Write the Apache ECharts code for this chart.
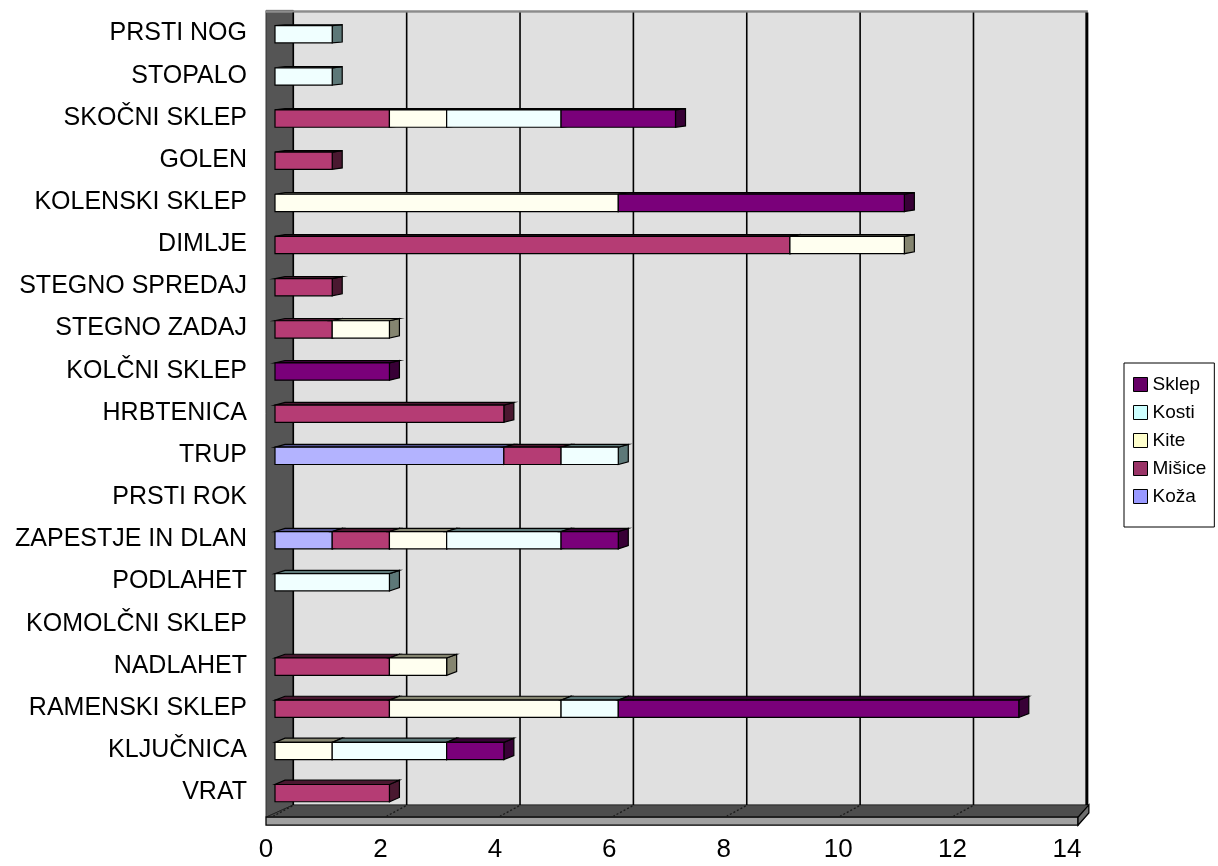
<!DOCTYPE html>
<html>
<head>
<meta charset="utf-8">
<title>Poškodbe po delih telesa</title>
<script src="https://cdn.jsdelivr.net/npm/echarts@6/dist/echarts.min.js"></script>
<style>
  html, body { margin: 0; padding: 0; background: #ffffff; }
  #chart { width: 1218px; height: 866px; }
</style>
</head>
<body>
<div id="chart"></div>
<script>
// Body regions, listed top to bottom
const categories = ['PRSTI NOG', 'STOPALO', 'SKOČNI SKLEP', 'GOLEN', 'KOLENSKI SKLEP', 'DIMLJE',
  'STEGNO SPREDAJ', 'STEGNO ZADAJ', 'KOLČNI SKLEP', 'HRBTENICA', 'TRUP', 'PRSTI ROK',
  'ZAPESTJE IN DLAN', 'PODLAHET', 'KOMOLČNI SKLEP', 'NADLAHET', 'RAMENSKI SKLEP', 'KLJUČNICA', 'VRAT'];

// Counts per tissue type (stacked left to right in this order)
const koza   = [0, 0, 0, 0, 0, 0, 0, 0, 0, 0, 4, 0, 1, 0, 0, 0, 0, 0, 0];
const misice = [0, 0, 2, 1, 0, 9, 1, 1, 0, 4, 1, 0, 1, 0, 0, 2, 2, 0, 2];
const kite   = [0, 0, 1, 0, 6, 2, 0, 1, 0, 0, 0, 0, 1, 0, 0, 1, 3, 1, 0];
const kosti  = [1, 1, 2, 0, 0, 0, 0, 0, 0, 0, 1, 0, 2, 2, 0, 0, 1, 2, 0];
const sklep  = [0, 0, 2, 0, 5, 0, 0, 0, 2, 0, 0, 0, 1, 0, 0, 0, 7, 1, 0];

const seriesNames = ['Koža', 'Mišice', 'Kite', 'Kosti', 'Sklep'];
const seriesValues = [koza, misice, kite, kosti, sklep];
const legendOrder = ['Sklep', 'Kosti', 'Kite', 'Mišice', 'Koža'];

const xTicks = { min: 0, max: 14, interval: 2 };

// Face colours: legend swatch, lit front face, shaded top/side faces
const palette = {
  'Koža':   { swatch: '#9999ff', front: '#b3b3ff', shade: '#50508a' },
  'Mišice': { swatch: '#993366', front: '#b53c74', shade: '#4a1830' },
  'Kite':   { swatch: '#ffffcc', front: '#fffff0', shade: '#858570' },
  'Kosti':  { swatch: '#ccffff', front: '#f0ffff', shade: '#5d7878' },
  'Sklep':  { swatch: '#660066', front: '#7a007a', shade: '#380036' }
};

const FONT = '"Liberation Sans", Arial, sans-serif';

// Build stacked segments [categoryIndex, start, end] for each layer
function buildSegments() {
  const running = categories.map(() => 0);
  return seriesValues.map(vals => {
    const segs = [];
    vals.forEach((v, i) => {
      if (v > 0) {
        segs.push([i, running[i], running[i] + v]);
        running[i] += v;
      }
    });
    return segs;
  });
}
const segments = buildSegments();

// 3D box drawing for a single stacked segment
function makeBarRenderer(name) {
  const col = palette[name];
  return function (params, api) {
    const cat = api.value(0);
    const p0 = api.coord([api.value(1), cat]);
    const p1 = api.coord([api.value(2), cat]);
    const cs = params.coordSys;
    const band = api.size([0, 1])[1];
    const h = band * 0.41;
    const yTop = p0[1] - h / 2 + 0.8;
    const yBot = yTop + h;
    const x0 = p0[0], x1 = p1[0];
    const depthX = 10;
    const depthY = 0.8 + 3.6 * (p0[1] - cs.y) / cs.height;
    const stroke = { stroke: '#000', lineWidth: 1.2, lineJoin: 'miter' };
    return {
      type: 'group',
      children: [
        {
          type: 'polygon',
          shape: { points: [[x1, yTop], [x1 + depthX, yTop - depthY], [x1 + depthX, yBot - depthY], [x1, yBot]] },
          style: Object.assign({ fill: col.shade }, stroke)
        },
        {
          type: 'polygon',
          shape: { points: [[x0, yTop], [x1, yTop], [x1 + depthX, yTop - depthY], [x0 + depthX, yTop - depthY]] },
          style: Object.assign({ fill: col.shade }, stroke)
        },
        {
          type: 'rect',
          shape: { x: x0, y: yTop, width: x1 - x0, height: h },
          style: Object.assign({ fill: col.front }, stroke)
        }
      ]
    };
  };
}

// Walls, floor and back-wall gridlines, positioned from the value axis
function renderBackdrop(params, api) {
  const cs = params.coordSys;
  const f0 = api.coord([xTicks.min, 0])[0];
  const fMax = api.coord([xTicks.max, 0])[0];
  const backShift = 18.3, backScale = 0.9907;
  const backX = v => f0 + backShift + (api.coord([v, 0])[0] - f0) * backScale;
  const top = cs.y;
  const gridBottom = cs.y + cs.height;
  const backBottom = gridBottom - 8.5;
  const frontBottom = gridBottom + 3.8;
  const stripH = 8;
  const wallLeft = f0 - 9;
  const bL = backX(xTicks.min), bR = backX(xTicks.max);
  const frontRight = fMax + 2;
  const children = [];
  // back wall
  children.push({
    type: 'rect', shape: { x: bL, y: top, width: bR - bL, height: backBottom - top },
    style: { fill: '#e0e0e0', stroke: null }
  });
  // left wall
  children.push({
    type: 'polygon',
    shape: { points: [[wallLeft, top - 2], [bL, top - 2], [bL, backBottom], [wallLeft, frontBottom]] },
    style: { fill: '#555555', stroke: '#333', lineWidth: 1 }
  });
  // top edge of the walls
  children.push({
    type: 'line', shape: { x1: wallLeft, y1: top - 1, x2: bR + 1, y2: top - 1 },
    style: { stroke: '#8c8c8c', lineWidth: 2.5 }
  });
  // floor
  children.push({
    type: 'polygon',
    shape: { points: [[bL, backBottom], [bR + 2, backBottom], [frontRight, frontBottom], [wallLeft, frontBottom]] },
    style: { fill: '#4d4d4d', stroke: '#222', lineWidth: 1 }
  });
  // floor slab front and end faces
  children.push({
    type: 'rect', shape: { x: wallLeft, y: frontBottom, width: frontRight - wallLeft, height: stripH },
    style: { fill: '#a0a0a0', stroke: '#000', lineWidth: 1.3 }
  });
  children.push({
    type: 'polygon',
    shape: { points: [[frontRight, frontBottom], [bR + 2, backBottom], [bR + 2, backBottom + stripH], [frontRight, frontBottom + stripH]] },
    style: { fill: '#6e6e6e', stroke: '#000', lineWidth: 1.3 }
  });
  // gridlines on the back wall and dotted continuations across the floor
  for (let v = xTicks.min; v <= xTicks.max; v += xTicks.interval) {
    const bx = backX(v);
    children.push({
      type: 'line', shape: { x1: bx, y1: top, x2: bx, y2: backBottom },
      style: { stroke: '#000', lineWidth: v === xTicks.max ? 3 : 1.6 }
    });
    if (v < xTicks.max) {
      children.push({
        type: 'line', shape: { x1: bx - 1, y1: backBottom + 1, x2: bx - 20, y2: frontBottom - 1 },
        style: { stroke: '#1a1a1a', lineWidth: 1.3, lineDash: [2, 2] }
      });
    }
  }
  return { type: 'group', children };
}

const chart = echarts.init(document.getElementById('chart'), null, { renderer: 'canvas' });

const series = [{
  name: 'backdrop',
  type: 'custom',
  renderItem: renderBackdrop,
  data: [[0, 0]],
  encode: { x: 0, y: 1 },
  clip: false,
  silent: true,
  z: 1
}];

seriesNames.forEach((name, k) => {
  series.push({
    name: name,
    type: 'custom',
    renderItem: makeBarRenderer(name),
    data: segments[k],
    encode: { y: 0, x: [1, 2] },
    itemStyle: { color: palette[name].swatch },
    clip: false,
    z: 2 + k
  });
});

chart.setOption({
  animation: false,
  backgroundColor: '#ffffff',
  grid: { left: 275, top: 12.4, width: 801, height: 801, containLabel: false },
  xAxis: {
    type: 'value',
    min: xTicks.min, max: xTicks.max, interval: xTicks.interval,
    axisLine: { show: false }, axisTick: { show: false }, splitLine: { show: false },
    axisLabel: {
      margin: 23, fontSize: 26, color: '#000', fontFamily: FONT,
      padding: [0, 18, 0, 0]
    }
  },
  yAxis: {
    type: 'category',
    data: categories,
    inverse: true,
    axisLine: { show: false }, axisTick: { show: false }, splitLine: { show: false },
    axisLabel: { margin: 28, fontSize: 25, color: '#000', fontFamily: FONT, interval: 0, padding: [4, 0, 0, 0] }
  },
  legend: {
    orient: 'vertical',
    left: 1124, top: 363,
    data: legendOrder,
    icon: 'rect',
    itemWidth: 14, itemHeight: 14,
    itemGap: 9,
    itemTextGap: 9,
    padding: [12, 8, 21, 9],
    borderColor: '#000', borderWidth: 1,
    backgroundColor: '#ffffff',
    itemStyle: { borderColor: '#000', borderWidth: 1 },
    textStyle: { fontSize: 19, color: '#000', fontFamily: FONT, lineHeight: 19 }
  },
  series: series
});
</script>
</body>
</html>
